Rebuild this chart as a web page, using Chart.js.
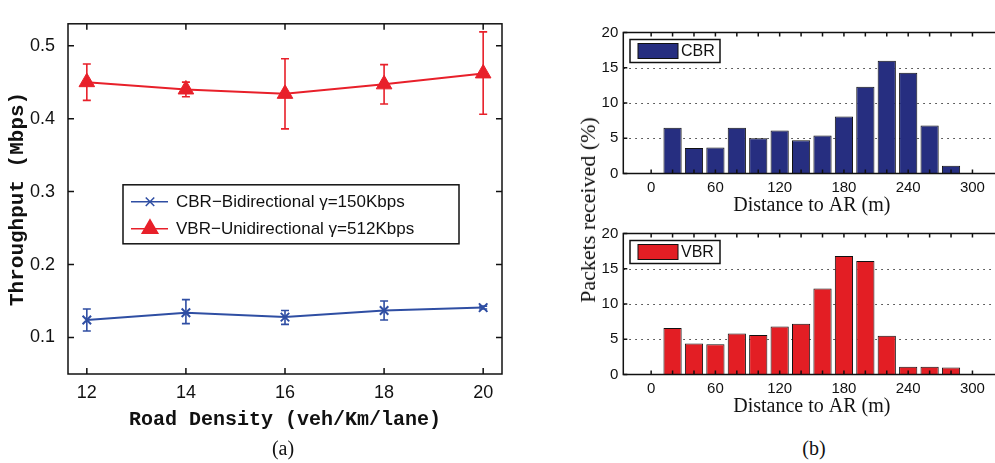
<!DOCTYPE html>
<html>
<head>
<meta charset="utf-8">
<script src="https://cdn.jsdelivr.net/npm/chart.js@4.4.0/dist/chart.umd.min.js"></script>
<style>
  html, body { margin: 0; padding: 0; background: #fff; overflow: hidden; width: 995px; height: 463px; }
  .box { position: absolute; }
  .cap { position: absolute; font-family: "Liberation Serif", serif; font-size: 20px; color: #111; transform: translate(-50%, -50%); white-space: nowrap; }
  #packetsTitle { transform: translate(-50%, -50%) rotate(-90deg); font-size: 22px; }
</style>
</head>
<body>
<div class="box" style="left:0;top:0"><canvas id="thrChart" width="520" height="463"></canvas></div>
<div class="box" style="left:590px;top:0"><canvas id="cbrChart" width="420" height="220"></canvas></div>
<div class="box" style="left:590px;top:201px"><canvas id="vbrChart" width="420" height="220"></canvas></div>
<div class="cap" id="packetsTitle" style="left:588px;top:210px">Packets received (%)</div>
<div class="cap" style="left:283px;top:448px">(a)</div>
<div class="cap" style="left:814px;top:448px">(b)</div>

<script>
// (a) throughput vs road density
const densities = [12, 14, 16, 18, 20];
const cbrThroughput = [0.124, 0.134, 0.128, 0.137, 0.141];
const cbrErrLow = [0.109, 0.119, 0.118, 0.124, 0.139];
const cbrErrHigh = [0.139, 0.152, 0.137, 0.150, 0.143];
const vbrThroughput = [0.450, 0.440, 0.434, 0.447, 0.462];
const vbrErrLow = [0.425, 0.430, 0.386, 0.420, 0.406];
const vbrErrHigh = [0.475, 0.450, 0.482, 0.474, 0.519];
const densityTicks = [12, 14, 16, 18, 20];
const throughputTicks = [0.1, 0.2, 0.3, 0.4, 0.5];

// (b) packets received vs distance
const distances = [20, 40, 60, 80, 100, 120, 140, 160, 180, 200, 220, 240, 260, 280];
const cbrPackets = [6.5, 3.6, 3.7, 6.5, 5.0, 6.1, 4.7, 5.4, 8.1, 12.3, 16.0, 14.3, 6.8, 1.1];
const vbrPackets = [6.6, 4.4, 4.3, 5.8, 5.6, 6.8, 7.2, 12.2, 16.8, 16.1, 5.5, 1.1, 1.1, 1.0];
const distanceTicks = [0, 20, 40, 60, 80, 100, 120, 140, 160, 180, 200, 220, 240, 260, 280, 300];
const distanceLabels = [0, 60, 120, 180, 240, 300];
const packetTicks = [0, 5, 10, 15, 20];

const RED = '#e8202a';
const BLUE = '#2f4ea3';

// box around the axes with inward tick marks (matlab style)
const frame = {
    id: 'frame',
    afterDatasetsDraw(chart, args, opts) {
        const { ctx, chartArea: a, scales } = chart;
        const len = opts.tick || 5;
        ctx.save();
        ctx.strokeStyle = '#111';
        ctx.lineWidth = 1.5;
        ctx.beginPath();
        scales.x.ticks.forEach(t => {
            const px = scales.x.getPixelForValue(t.value);
            ctx.moveTo(px, a.bottom); ctx.lineTo(px, a.bottom - len);
            ctx.moveTo(px, a.top); ctx.lineTo(px, a.top + len);
        });
        scales.y.ticks.forEach(t => {
            const py = scales.y.getPixelForValue(t.value);
            ctx.moveTo(a.left, py); ctx.lineTo(a.left + len, py);
            ctx.moveTo(a.right, py); ctx.lineTo(a.right - len, py);
        });
        ctx.stroke();
        ctx.strokeRect(a.left, a.top, a.right - a.left, a.bottom - a.top);
        ctx.restore();
    }
};

// vertical error bars, from errLow / errHigh on each dataset
const errorBars = {
    id: 'errorBars',
    beforeDatasetsDraw(chart) {
        const { ctx, scales } = chart;
        chart.data.datasets.forEach(ds => {
            if (!ds.errLow) return;
            ctx.save();
            ctx.strokeStyle = ds.borderColor;
            ctx.lineWidth = 1.6;
            ds.data.forEach((p, i) => {
                const x = scales.x.getPixelForValue(p.x);
                const y1 = scales.y.getPixelForValue(ds.errLow[i]);
                const y2 = scales.y.getPixelForValue(ds.errHigh[i]);
                ctx.beginPath();
                ctx.moveTo(x, y1); ctx.lineTo(x, y2);
                ctx.moveTo(x - 4, y1); ctx.lineTo(x + 4, y1);
                ctx.moveTo(x - 4, y2); ctx.lineTo(x + 4, y2);
                ctx.stroke();
            });
            ctx.restore();
        });
    }
};

// dotted horizontal grid (inside only)
const dotGrid = {
    id: 'dotGrid',
    beforeDatasetsDraw(chart) {
        const { ctx, chartArea: a, scales } = chart;
        ctx.save();
        ctx.strokeStyle = '#333';
        ctx.lineWidth = 1.2;
        ctx.setLineDash([1.5, 4.5]);
        scales.y.ticks.forEach(t => {
            if (t.value <= scales.y.min || t.value >= scales.y.max) return;
            const py = Math.round(scales.y.getPixelForValue(t.value)) + 0.5;
            ctx.beginPath();
            ctx.moveTo(a.left, py); ctx.lineTo(a.right, py);
            ctx.stroke();
        });
        ctx.restore();
    }
};

// legend boxes drawn inside the plot area
const boxLegend = {
    id: 'boxLegend',
    afterDraw(chart, args, opts) {
        const { ctx, chartArea: a } = chart;
        const x0 = a.left + opts.dx, y0 = a.top + opts.dy;
        ctx.save();
        ctx.fillStyle = '#fff';
        ctx.fillRect(x0, y0, opts.w, opts.h);
        ctx.strokeStyle = '#111';
        ctx.lineWidth = 1.5;
        ctx.strokeRect(x0, y0, opts.w, opts.h);
        ctx.font = opts.font;
        ctx.textBaseline = 'middle';
        chart.data.datasets.forEach((ds, i) => {
            const y = y0 + opts.rowTop + i * opts.rowGap;
            if (opts.bars) {
                ctx.fillStyle = ds.backgroundColor;
                ctx.fillRect(x0 + 8, y - 7.5, 40, 15);
                ctx.strokeStyle = '#111';
                ctx.lineWidth = 1;
                ctx.strokeRect(x0 + 8, y - 7.5, 40, 15);
                ctx.fillStyle = '#111';
                ctx.fillText(ds.label, x0 + 51, y + 1);
            } else {
                ctx.strokeStyle = ds.borderColor;
                ctx.lineWidth = 1.5;
                ctx.beginPath();
                ctx.moveTo(x0 + 8, y); ctx.lineTo(x0 + 45, y);
                ctx.stroke();
                ctx.fillStyle = ds.pointBackgroundColor;
                Chart.helpers.drawPoint(ctx, {
                    pointStyle: ds.pointStyle, radius: ds.pointRadius, rotation: 0, borderWidth: 1.5
                }, x0 + 27, y);
                ctx.fillStyle = '#111';
                ctx.fillText(ds.label, x0 + 53, y + 1);
            }
        });
        ctx.restore();
    }
};

const pts = (xs, ys) => xs.map((x, i) => ({ x: x, y: ys[i] }));

new Chart(document.getElementById('thrChart'), {
    type: 'line',
    data: {
        datasets: [{
            label: 'CBR\u2212Bidirectional \u03b3=150Kbps',
            data: pts(densities, cbrThroughput),
            errLow: cbrErrLow,
            errHigh: cbrErrHigh,
            borderColor: BLUE,
            backgroundColor: BLUE,
            pointBackgroundColor: BLUE,
            borderWidth: 2,
            pointStyle: 'crossRot',
            pointRadius: 6,
            pointBorderWidth: 2
        }, {
            label: 'VBR\u2212Unidirectional \u03b3=512Kbps',
            data: pts(densities, vbrThroughput),
            errLow: vbrErrLow,
            errHigh: vbrErrHigh,
            borderColor: RED,
            backgroundColor: RED,
            pointBackgroundColor: RED,
            borderWidth: 2,
            pointStyle: 'triangle',
            pointRadius: 9,
            pointBorderWidth: 1
        }]
    },
    options: {
        responsive: false,
        animation: false,
        layout: { padding: { top: 6, right: 18, left: 0, bottom: 0 } },
        plugins: {
            legend: { display: false },
            tooltip: { enabled: false },
            frame: { tick: 6 },
            boxLegend: { dx: 55, dy: 161, w: 336, h: 59, rowTop: 17, rowGap: 27, font: '17px "Liberation Sans", Arial, sans-serif' }
        },
        scales: {
            x: {
                type: 'linear',
                min: 11.62,
                max: 20.38,
                afterBuildTicks: s => { s.ticks = densityTicks.map(v => ({ value: v })); },
                afterFit: s => { s.height = 89; },
                grid: { display: false, drawTicks: false },
                border: { display: false },
                ticks: { padding: 8, color: '#111', font: { family: '"Liberation Sans", Arial', size: 18 } },
                title: {
                    display: true,
                    text: 'Road Density (veh/Km/lane)',
                    color: '#111',
                    padding: { top: 0, bottom: 31 },
                    font: { family: '"Liberation Mono", "DejaVu Sans Mono", monospace', size: 20, weight: 'bold' }
                }
            },
            y: {
                min: 0.05,
                max: 0.53,
                afterBuildTicks: s => { s.ticks = throughputTicks.map(v => ({ value: v })); },
                afterFit: s => { s.width = 68; },
                grid: { display: false, drawTicks: false },
                border: { display: false },
                ticks: { padding: 13, color: '#111', font: { family: '"Liberation Sans", Arial', size: 18 },
                    callback: v => v.toFixed(1) },
                title: {
                    display: true,
                    text: 'Throughput (Mbps)',
                    color: '#111',
                    padding: { top: 5, bottom: 0 },
                    font: { family: '"Liberation Mono", "DejaVu Sans Mono", monospace', size: 21, weight: 'bold' }
                }
            }
        }
    },
    plugins: [errorBars, frame, boxLegend]
});

function packetChart(id, label, values, colour) {
    return new Chart(document.getElementById(id), {
        type: 'bar',
        data: {
            datasets: [{
                label: label,
                data: pts(distances, values),
                backgroundColor: colour,
                borderColor: '#111',
                borderWidth: 1,
                barPercentage: 0.85,
                categoryPercentage: 1
            }]
        },
        options: {
            responsive: false,
            animation: false,
            layout: { padding: { top: 32.5, right: 9.7, left: 0, bottom: 0 } },
            plugins: {
                legend: { display: false },
                tooltip: { enabled: false },
                frame: { tick: 4 },
                boxLegend: { bars: true, dx: 6.7, dy: 7, w: 90, h: 23, rowTop: 11.5, rowGap: 0, font: '16px "Liberation Sans", Arial, sans-serif' }
            },
            scales: {
                x: {
                    type: 'linear',
                    min: -15,
                    max: 315,
                    afterBuildTicks: s => { s.ticks = distanceTicks.map(v => ({ value: v })); },
                    afterFit: s => { s.height = 46.5; },
                    grid: { display: false, drawTicks: false },
                    border: { display: false },
                    ticks: { padding: 5, color: '#111', autoSkip: false, maxRotation: 0,
                        font: { family: '"Liberation Sans", Arial', size: 15 },
                        callback: v => distanceLabels.includes(v) ? String(v) : '' },
                    title: {
                        display: true,
                        text: 'Distance to AR (m)',
                        color: '#111',
                        padding: { top: 0, bottom: 2 },
                        font: { family: '"Liberation Serif", serif', size: 20 }
                    }
                },
                y: {
                    min: 0,
                    max: 20,
                    afterBuildTicks: s => { s.ticks = packetTicks.map(v => ({ value: v })); },
                    afterFit: s => { s.width = 33.3; },
                    grid: { display: false, drawTicks: false },
                    border: { display: false },
                    ticks: { padding: 5, color: '#111', font: { family: '"Liberation Sans", Arial', size: 15 } }
                }
            }
        },
        plugins: [dotGrid, frame, boxLegend]
    });
}

packetChart('cbrChart', 'CBR', cbrPackets, '#262e80');
packetChart('vbrChart', 'VBR', vbrPackets, '#e31e24');
</script>
</body>
</html>
